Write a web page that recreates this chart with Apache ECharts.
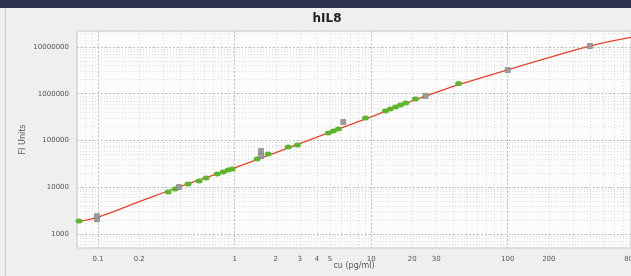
<!DOCTYPE html>
<html>
<head>
<meta charset="utf-8">
<script src="https://cdn.jsdelivr.net/npm/echarts@6/dist/echarts.min.js"></script>
<style>
  html, body { margin: 0; padding: 0; background: #efefef; }
  #main { width: 631px; height: 276px; }
</style>
</head>
<body>
<div id="main"></div>
<script>
// fitted curve
const curveX = [0.07, 0.1, 0.2, 0.39, 1, 2, 3, 10, 20, 26, 45, 100, 200, 400, 800];
const curveY = [1850, 2300, 4900, 10100, 26000, 55000, 86000, 320000, 700000, 920000, 1600000, 3250000, 5900000, 10500000, 16000000];
// standards (grey squares)
const stdX = [0.098, 0.098, 0.39, 1.56, 1.56, 6.25, 25, 100, 400];
const stdY = [2050, 2400, 10100, 46600, 59600, 248000, 895000, 3220000, 10500000];
// samples (green dots)
const smpX = [0.0724, 0.326, 0.366, 0.456, 0.549, 0.618, 0.745, 0.824, 0.897, 0.96, 1.46, 1.76, 2.47, 2.88, 4.86, 5.29, 5.75, 9.08, 12.7, 13.8, 15.1, 16.4, 17.9, 21.1, 43.7];
const smpY = [1900, 7910, 9170, 11700, 13600, 15800, 19200, 21200, 23400, 24500, 40200, 51400, 72600, 80000, 144000, 160000, 176000, 303000, 428000, 472000, 520000, 574000, 634000, 771000, 1650000];
// tick labels
const xLabels = [0.1, 0.2, 1, 2, 3, 4, 5, 10, 20, 30, 100, 200, 800];
const yLabels = [1000, 10000, 100000, 1000000, 10000000];

function minorSteps(from, to) {
    let out = [];
    for (let d = from; d <= to; d *= 10) {
        for (let k = 1; k <= 9; k++) out.push(+(k * d).toPrecision(3));
    }
    return out;
}
const xMinor = minorSteps(0.01, 100).filter(v => v >= 0.07 && v <= 800);
const yMinor = minorSteps(100, 10000000).filter(v => v >= 500 && v <= 22000000);

const zip = (a, b) => a.map((v, i) => [v, b[i]]);
const labelStyle = { fontSize: 7, color: '#555', fontFamily: 'DejaVu Sans' };
const plain = v => String(+(+v).toPrecision(6));

var myChart = echarts.init(document.getElementById('main'));
var option = {
    backgroundColor: '#efefef',
    animation: false,
    title: {
        text: 'hIL8',
        left: 322,
        top: 8,
        textAlign: 'center',
        textStyle: { fontSize: 12, fontWeight: 'bold', color: '#222', fontFamily: 'DejaVu Sans' }
    },
    graphic: [
        { type: 'rect', shape: { x: 0, y: 0, width: 631, height: 8 }, style: { fill: '#2d3450' } },
        { type: 'rect', shape: { x: 5, y: 8, width: 1, height: 268 }, style: { fill: '#c9c9c9' } }
    ],
    grid: {
        left: 77, right: 0, top: 31, bottom: 28,
        outerBoundsMode: 'none',
        show: true, backgroundColor: '#fcfcfc', borderColor: '#c4c4c4', borderWidth: 1
    },
    xAxis: [{
        type: 'log', min: 0.07, max: 800,
        name: 'cu (pg/ml)', nameLocation: 'middle', nameGap: 14, nameMoveOverlap: false,
        nameTextStyle: { fontSize: 8, color: '#555', fontFamily: 'DejaVu Sans' },
        axisLine: { show: false },
        axisTick: { show: false, customValues: xMinor },
        axisLabel: Object.assign({ customValues: xLabels, margin: 8, formatter: plain, hideOverlap: false }, labelStyle),
        splitLine: { show: true, lineStyle: { color: '#dcdcdc', type: [1, 2], width: 1 } }
    }, {
        type: 'log', min: 0.07, max: 800, position: 'bottom',
        axisLine: { show: false }, axisLabel: { show: false },
        axisTick: { show: false, customValues: [0.1, 1, 10, 100] },
        splitLine: { show: true, lineStyle: { color: '#c2c2c2', type: [2, 2], width: 1 } }
    }],
    yAxis: [{
        type: 'log', min: 500, max: 22000000,
        name: 'FI Units', nameLocation: 'middle', nameGap: 50, nameMoveOverlap: false,
        nameTextStyle: { fontSize: 8, color: '#555', fontFamily: 'DejaVu Sans' },
        axisLine: { show: false },
        axisTick: { show: false, customValues: yMinor },
        axisLabel: Object.assign({ customValues: yLabels, margin: 8, formatter: plain }, labelStyle),
        splitLine: { show: true, lineStyle: { color: '#dcdcdc', type: [1, 2], width: 1 } }
    }, {
        type: 'log', min: 500, max: 22000000, position: 'left',
        axisLine: { show: false }, axisLabel: { show: false },
        axisTick: { show: false, customValues: yLabels },
        splitLine: { show: true, lineStyle: { color: '#c2c2c2', type: [2, 2], width: 1 } }
    }],
    series: [{
        type: 'line',
        data: zip(curveX, curveY),
        smooth: 0.4,
        showSymbol: false,
        lineStyle: { color: '#e8432c', width: 1.3 },
        z: 2
    }, {
        type: 'scatter',
        data: zip(smpX, smpY),
        symbol: 'circle',
        symbolSize: [7, 5],
        itemStyle: { color: '#5cb52a', opacity: 1 },
        z: 3
    }, {
        type: 'scatter',
        data: zip(stdX, stdY),
        symbol: 'rect',
        symbolSize: [5, 5],
        itemStyle: { color: '#9c9c9c', borderColor: '#7a7a7a', borderWidth: 0.6, opacity: 1 },
        z: 4
    }]
};
myChart.setOption(option);
</script>
</body>
</html>
